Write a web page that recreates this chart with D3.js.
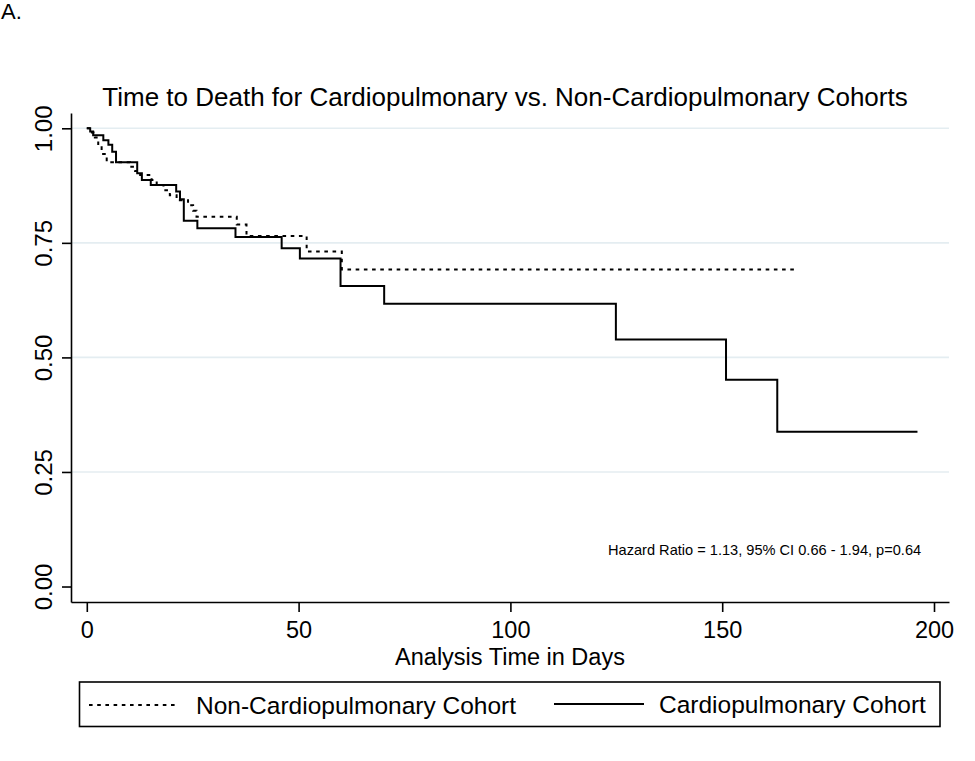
<!DOCTYPE html>
<html>
<head>
<meta charset="utf-8">
<script src="https://cdn.jsdelivr.net/npm/d3@7"></script>
<style>
  html, body { margin: 0; padding: 0; background: #fff; }
  svg { display: block; font-family: "Liberation Sans", Arial, sans-serif; }
</style>
</head>
<body>
<svg id="chart" width="975" height="761"></svg>
<script>
// ---- Data ----
const panelLabel = "A.";
const chartTitle = "Time to Death for Cardiopulmonary vs. Non-Cardiopulmonary Cohorts";
const xAxisTitle = "Analysis Time in Days";
const hazardNote = "Hazard Ratio = 1.13, 95% CI 0.66 - 1.94, p=0.64";
const xTicks = [0, 50, 100, 150, 200];
const yTicks = [0, 0.25, 0.5, 0.75, 1];
const gridTicks = [0.25, 0.5, 0.75, 1];

// Non-Cardiopulmonary cohort (dashed): step times and survival after each step
const nonCardioTimes = [0, 1.2, 1.9, 2.7, 3.5, 4.7, 10.2, 11.4, 12.6, 15.3, 16.5, 18.1, 19.6, 21.2, 23.9, 25.1, 25.9, 35.4, 37.7, 51.9, 60.2];
const nonCardioSurv  = [1, 0.991, 0.980, 0.962, 0.944, 0.926, 0.916, 0.907, 0.898, 0.887, 0.876, 0.865, 0.854, 0.843, 0.832, 0.820, 0.807, 0.790, 0.765, 0.731, 0.692];
const nonCardioEnd = 168.0;

// Cardiopulmonary cohort (solid)
const cardioTimes = [0, 0.8, 1.5, 3.9, 5.1, 6.0, 6.9, 11.9, 13.0, 15.1, 21.1, 22.0, 22.9, 26.1, 35.1, 46.0, 50.3, 59.9, 70.2, 124.9, 150.9, 163.0];
const cardioSurv  = [1, 0.993, 0.985, 0.974, 0.964, 0.949, 0.926, 0.902, 0.887, 0.876, 0.862, 0.845, 0.798, 0.782, 0.763, 0.738, 0.716, 0.656, 0.617, 0.539, 0.451, 0.338];
const cardioEnd = 196.1;

const seriesNames = ["Non-Cardiopulmonary Cohort", "Cardiopulmonary Cohort"];

// ---- Drawing ----
const svg = d3.select("#chart");
svg.append("rect").attr("width", 975).attr("height", 761).attr("fill", "#fff");

const x = d3.scaleLinear().domain([-3.73, 203.54]).range([71, 949]);
const y = d3.scaleLinear().domain([-0.0338, 1.0334]).range([602, 113]);

// grid
svg.append("g").selectAll("line").data(gridTicks).join("line")
  .attr("x1", 71).attr("x2", 949)
  .attr("y1", d => y(d)).attr("y2", d => y(d))
  .attr("stroke", "#e4edf1").attr("stroke-width", 1.6);

// curves
function stepPoints(times, surv, end) {
  const pts = times.map((t, i) => [t, surv[i]]);
  pts.push([end, surv[surv.length - 1]]);
  return pts;
}
const line = d3.line().x(d => x(d[0])).y(d => y(d[1])).curve(d3.curveStepAfter);

svg.append("path")
  .datum(stepPoints(nonCardioTimes, nonCardioSurv, nonCardioEnd))
  .attr("d", line).attr("fill", "none").attr("stroke", "#000")
  .attr("stroke-width", 2).attr("stroke-dasharray", "3.6,4.6");

svg.append("path")
  .datum(stepPoints(cardioTimes, cardioSurv, cardioEnd))
  .attr("d", line).attr("fill", "none").attr("stroke", "#000")
  .attr("stroke-width", 2);

// y axis
const yAxis = svg.append("g").attr("transform", "translate(71,0)")
  .call(d3.axisLeft(y).tickValues(yTicks).tickFormat(d3.format(".2f")).tickSize(9).tickSizeOuter(0));
yAxis.select(".domain").attr("stroke-width", 1.6);
yAxis.selectAll(".tick line").attr("stroke-width", 1.6);
yAxis.selectAll(".tick text")
  .attr("x", null).attr("dy", null)
  .attr("transform", "translate(-19,0) rotate(-90)")
  .attr("text-anchor", "middle")
  .attr("font-size", 24).attr("fill", "#000")
  .attr("font-family", "'Liberation Sans', Arial, sans-serif");

// x axis
const xAxis = svg.append("g").attr("transform", "translate(0,602)")
  .call(d3.axisBottom(x).tickValues(xTicks).tickSize(10).tickSizeOuter(0));
xAxis.select(".domain").attr("stroke-width", 1.6);
xAxis.selectAll(".tick line").attr("stroke-width", 1.6);
xAxis.selectAll(".tick text")
  .attr("y", 36).attr("dy", null)
  .attr("font-size", 23.5).attr("fill", "#000")
  .attr("font-family", "'Liberation Sans', Arial, sans-serif");

// texts
svg.append("text").attr("x", 1).attr("y", 19).attr("font-size", 22).text(panelLabel);
svg.append("text").attr("x", 505).attr("y", 106).attr("text-anchor", "middle")
  .attr("font-size", 26).text(chartTitle);
svg.append("text").attr("x", 510).attr("y", 664.5).attr("text-anchor", "middle")
  .attr("font-size", 23.5).text(xAxisTitle);
svg.append("text").attr("x", 608).attr("y", 555).attr("font-size", 14.6).text(hazardNote);

// legend
const lg = svg.append("g");
lg.append("rect").attr("x", 79.5).attr("y", 682).attr("width", 860.5).attr("height", 44.5)
  .attr("fill", "#fff").attr("stroke", "#000").attr("stroke-width", 1.6);
lg.append("line").attr("x1", 89).attr("x2", 179).attr("y1", 705).attr("y2", 705)
  .attr("stroke", "#000").attr("stroke-width", 2).attr("stroke-dasharray", "3.6,4.6");
lg.append("text").attr("x", 196).attr("y", 714).attr("font-size", 24.5).text(seriesNames[0]);
lg.append("line").attr("x1", 554).attr("x2", 644).attr("y1", 704).attr("y2", 704)
  .attr("stroke", "#000").attr("stroke-width", 2);
lg.append("text").attr("x", 659).attr("y", 713).attr("font-size", 24.5).text(seriesNames[1]);
</script>
</body>
</html>
